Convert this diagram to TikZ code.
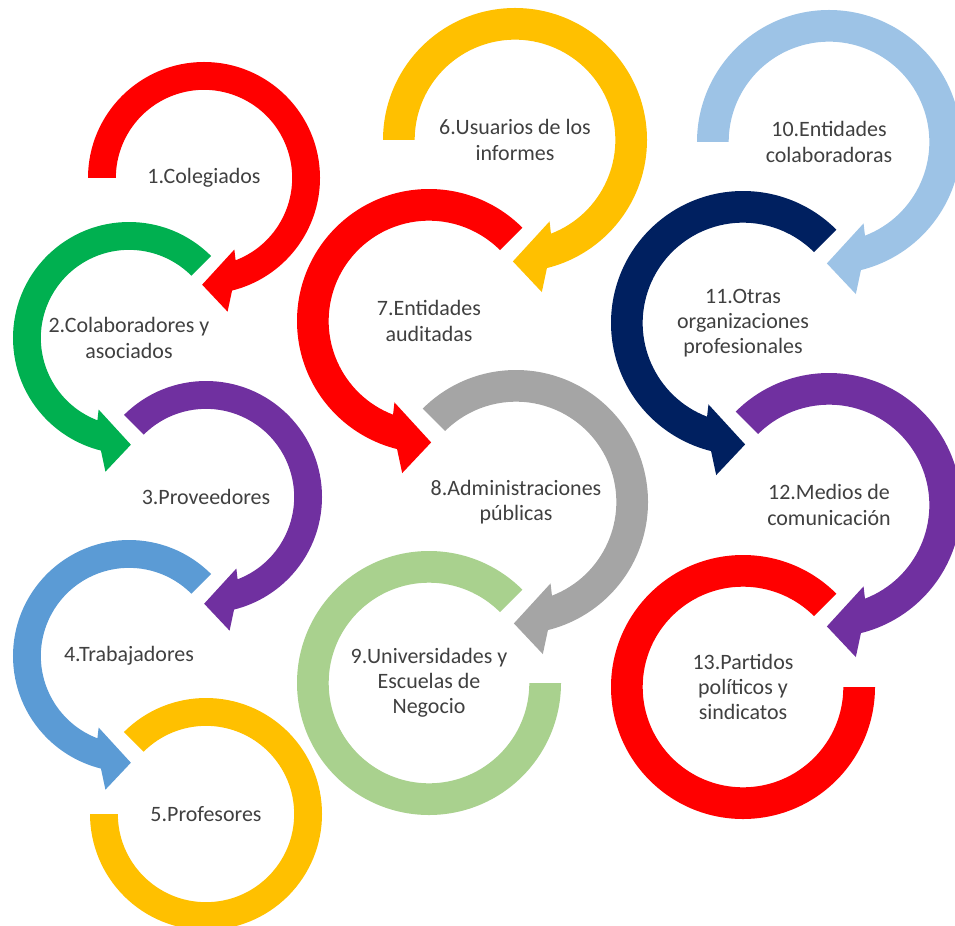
\documentclass[tikz,border=0pt]{standalone}
\usepackage{fontspec}
\setmainfont{Carlito}
\usepackage{xcolor}
\usepackage{tikz}
\usetikzlibrary{calc,positioning}

\definecolor{ared}{HTML}{FF0000}
\definecolor{agreen}{HTML}{00B050}
\definecolor{apurple}{HTML}{7030A0}
\definecolor{ablue}{HTML}{5B9BD5}
\definecolor{ayellow}{HTML}{FFC000}
\definecolor{agray}{HTML}{A5A5A5}
\definecolor{alightgreen}{HTML}{A9D18E}
\definecolor{alightblue}{HTML}{9DC3E6}
\definecolor{anavy}{HTML}{002060}
\definecolor{txtgray}{HTML}{404040}

% circular arrows: colour, centre node, radius, start angle
\newcommand{\cwarrow}[4]{%
  \fill[#1, shift={(#2.center)}, scale=#3] (#4:1) arc[start angle=#4, end angle=-76, radius=1]
    -- (-80:1.17) -- (-91:0.92) -- (-67:0.67) -- (-69:0.76)
    arc[start angle=-69, end angle=#4, radius=0.76] -- cycle;}
\newcommand{\ccwarrow}[4]{%
  \fill[#1, shift={(#2.center)}, scale=#3] (#4:1) arc[start angle=#4, end angle=256, radius=1]
    -- (260:1.17) -- (271:0.92) -- (247:0.67) -- (249:0.76)
    arc[start angle=249, end angle=#4, radius=0.76] -- cycle;}
% closing ring without head: colour, centre node, radius, start angle, end angle
\newcommand{\ringarc}[5]{%
  \fill[#1, shift={(#2.center)}, scale=#3] (#4:1) arc[start angle=#4, end angle=#5, radius=1]
    -- (#5:0.76) arc[start angle=#5, end angle=#4, radius=0.76] -- cycle;}

\begin{document}
\begin{tikzpicture}[
    %	style def
    x=0.02cm, y=0.02cm,
    stakeholder/.style={align=center, inner sep=0pt, text=txtgray,
      font=\fontsize{12.5}{14.3}\selectfont}
    ]
    \clip (0,0) rectangle (955,-925);

    % first column
    \node[stakeholder] (coleg) at (204,-178) {1.Colegiados};
    \node[stakeholder] (colab) at (129,-338) {2.Colaboradores y\\asociados};
    \node[stakeholder] (prov) at (206,-497) {3.Proveedores};
    \node[stakeholder] (trab) at (129,-656) {4.Trabajadores};
    \node[stakeholder] (prof) at (206,-814) {5.Profesores};

    % second column
    \node[stakeholder] (usu) at (515,-140) {6.Usuarios de los\\informes};
    \node[stakeholder] (audit) at (429,-321) {7.Entidades\\auditadas};
    \node[stakeholder] (admin) at (516,-502) {8.Administraciones\\públicas};
    \node[stakeholder] (univ) at (429,-683) {9.Universidades y\\Escuelas de\\Negocio};

    % third column
    \node[stakeholder] (entcol) at (829,-142) {10.Entidades\\colaboradoras};
    \node[stakeholder] (otras) at (743,-323) {11.Otras\\organizaciones\\profesionales};
    \node[stakeholder] (medios) at (829,-505) {12.Medios de\\comunicación};
    \node[stakeholder] (part) at (743,-687) {13.Partidos\\políticos y\\sindicatos};

    % arrows round the names
    \cwarrow{ared}{coleg}{116}{180}
    \ccwarrow{agreen}{colab}{116}{45}
    \cwarrow{apurple}{prov}{116}{135}
    \ccwarrow{ablue}{trab}{116}{45}
    \ringarc{ayellow}{prof}{116}{135}{-180}

    \cwarrow{ayellow}{usu}{132}{180}
    \ccwarrow{ared}{audit}{132}{45}
    \cwarrow{agray}{admin}{132}{135}
    \ringarc{alightgreen}{univ}{132}{45}{360}

    \cwarrow{alightblue}{entcol}{132}{180}
    \ccwarrow{anavy}{otras}{132}{45}
    \cwarrow{apurple}{medios}{132}{135}
    \ringarc{ared}{part}{132}{45}{360}
\end{tikzpicture}
\end{document}
